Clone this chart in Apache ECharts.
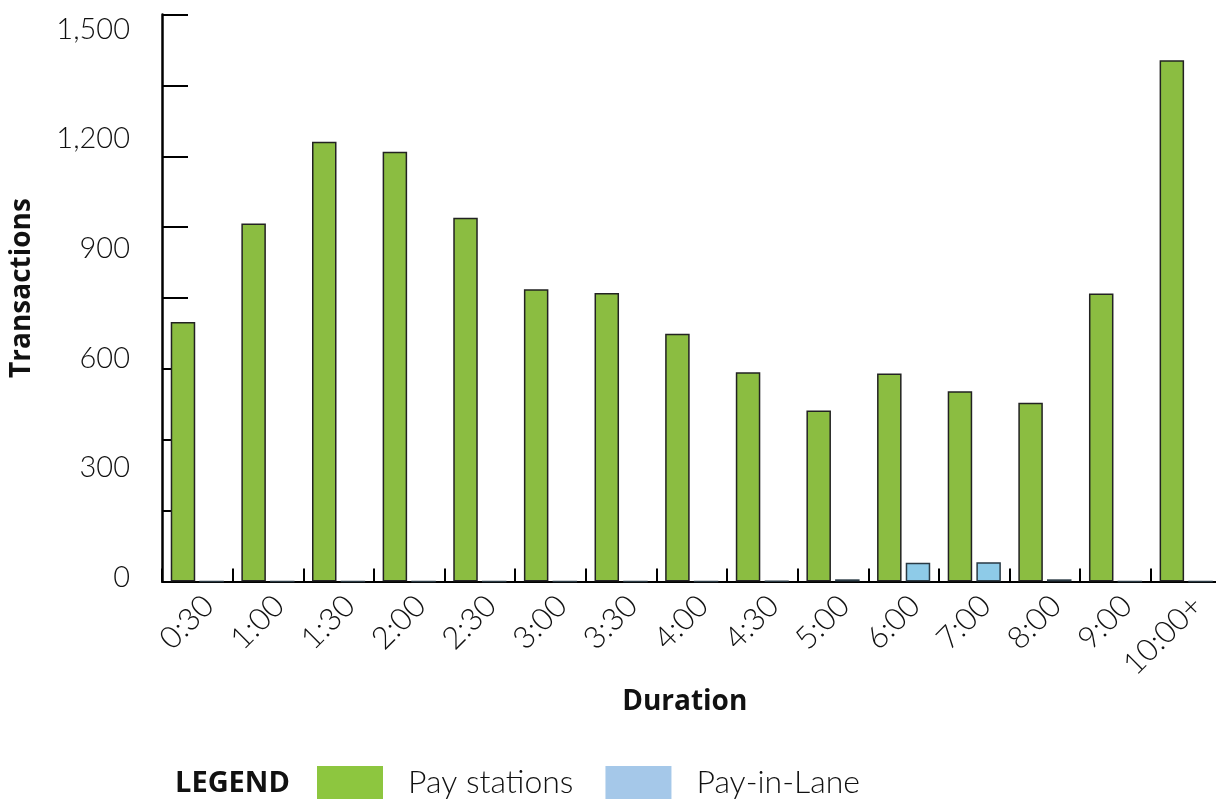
<!DOCTYPE html>
<html>
<head>
<meta charset="utf-8">
<script src="https://cdn.jsdelivr.net/npm/echarts@6/dist/echarts.min.js"></script>
<style>
  html, body { margin: 0; padding: 0; background: #fff; }
  #chart { width: 1216px; height: 800px; }
</style>
</head>
<body>
<div id="chart"></div>
<script>
// Parking duration categories
const durations = ['0:30', '1:00', '1:30', '2:00', '2:30', '3:00', '3:30', '4:00',
                   '4:30', '5:00', '6:00', '7:00', '8:00', '9:00', '10:00+'];

// Transactions per duration
const payStations = [710, 980, 1204, 1176, 996, 800, 790, 678, 573, 468, 569, 521, 489, 788, 1427];
const payInLane   = [0, 0, 0, 0, 0, 0, 0, 0, 1, 6, 51, 53, 6, 0, 0];

// Value-axis extent and steps
const axisMax = 1552;
const tickStep = 194;      // short tick marks on the axis line
const labelStep = 300;     // labelled values

const FONT = 'Lato, "Open Sans", sans-serif';
const BOLD_FONT = '"Open Sans", Lato, sans-serif';
const TEXT = '#111';

const chart = echarts.init(document.getElementById('chart'), null, { renderer: 'canvas' });

chart.setOption({
  backgroundColor: '#ffffff',
  animation: false,
  title: {
    text: 'LEGEND',
    left: 175,
    top: 767,
    padding: 0,
    textStyle: { fontFamily: BOLD_FONT, fontSize: 29, fontWeight: 'bold', color: '#111', lineHeight: 34 }
  },
  legend: {
    left: 317,
    top: 766,
    padding: 0,
    itemWidth: 66,
    itemHeight: 33,
    itemGap: 32,
    icon: 'rect',
    selectedMode: false,
    textStyle: { fontFamily: FONT, fontSize: 32, fontWeight: 300, color: TEXT, padding: [0, 0, 0, 20] },
    data: [
      { name: 'Pay stations', itemStyle: { color: '#8dc63f', borderWidth: 0 } },
      { name: 'Pay-in-Lane', itemStyle: { color: '#a5c8e9', borderWidth: 0 } }
    ]
  },
  grid: { left: 162, top: 14.5, width: 1059.5, height: 567, containLabel: false, outerBoundsMode: 'none' },
  xAxis: {
    type: 'category',
    data: durations,
    boundaryGap: true,
    name: 'Duration',
    nameLocation: 'middle',
    nameGap: 101,
    nameTextStyle: { fontFamily: BOLD_FONT, fontSize: 28, fontWeight: 'bold', color: '#111', padding: [0, 14, 0, 0] },
    axisLine: { lineStyle: { color: '#000', width: 2 } },
    axisTick: { show: true, inside: true, length: 13, lineStyle: { color: '#000', width: 2 } },
    axisLabel: {
      rotate: 45, margin: 8, fontFamily: FONT, fontSize: 31, fontWeight: 300, color: TEXT,
      verticalAlign: 'top', lineHeight: 32
    },
    splitLine: { show: false }
  },
  yAxis: [
    {
      // axis line with evenly spaced tick marks
      type: 'value',
      min: 0,
      max: axisMax,
      interval: tickStep,
      axisLine: { show: true, lineStyle: { color: '#000', width: 2.5 } },
      axisTick: { show: true, inside: true, length: 26, lineStyle: { color: '#000', width: 2 } },
      axisLabel: { show: false },
      splitLine: { show: false }
    },
    {
      // labelled values and axis title
      type: 'value',
      position: 'left',
      min: 0,
      max: axisMax,
      interval: labelStep,
      name: 'Transactions',
      nameLocation: 'middle',
      nameGap: 126,
      nameRotate: 90,
      nameTextStyle: { fontFamily: BOLD_FONT, fontSize: 28, fontWeight: 'bold', color: '#111', padding: [0, 0, 0, 20] },
      axisLine: { show: false },
      axisTick: { show: false },
      axisLabel: {
        margin: 32,
        fontFamily: FONT,
        fontSize: 29,
        fontWeight: 300,
        color: TEXT,
        verticalAlign: 'bottom',
        lineHeight: 8,
        formatter: v => (v % labelStep === 0 ? v.toLocaleString('en-US') : '')
      },
      splitLine: { show: false }
    }
  ],
  series: [
    {
      name: 'Pay stations',
      type: 'bar',
      yAxisIndex: 0,
      data: payStations,
      barWidth: 24.5,
      barGap: '17%',
      itemStyle: { color: '#8bbd41', borderColor: '#222', borderWidth: 1.5 }
    },
    {
      name: 'Pay-in-Lane',
      type: 'bar',
      yAxisIndex: 0,
      data: payInLane,
      barWidth: 24.5,
      itemStyle: { color: '#8ecbe8', borderColor: '#2a3a44', borderWidth: 1.5 }
    }
  ]
});
</script>
</body>
</html>
